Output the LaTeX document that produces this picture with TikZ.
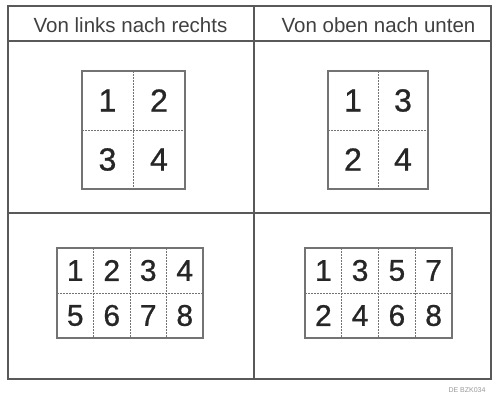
\documentclass[tikz,border=0pt]{standalone}
\usepackage{fontspec}
\setmainfont{Liberation Sans}
\newfontfamily\digitfont[FakeBold=0.8]{Liberation Sans}
\begin{document}
\begin{tikzpicture}[x=1pt,y=-1pt,
 frame/.style={draw=black!65,line width=1.6pt},
 page/.style={draw=black!55,line width=1.2pt},
 fold/.style={draw=black!55,line width=0.7pt,dash pattern=on 1.8pt off 1.2pt},
 head/.style={font=\fontsize{20.5}{24}\selectfont,text=black!75,anchor=base},
 big/.style={font=\digitfont\fontsize{32}{36}\selectfont,text=black!85},
 small/.style={font=\digitfont\fontsize{30}{34}\selectfont,text=black!85},
 tag/.style={font=\fontsize{7}{8}\selectfont,text=black!40}]
\useasboundingbox (0,0) rectangle (492,396);
% frame
\draw[frame] (8,6) rectangle (491,379);
\draw[frame] (254,6) -- (254,379);
\draw[frame] (8,41) -- (491,41);
\draw[frame] (8,213) -- (491,213);
% headers
\node[head] (h1) at (130.5,33) {Von links nach rechts};
\node[head] (h2) at (378.5,33) {Von oben nach unten};
% top left page
\draw[fold] (133,71) -- (133,189);
\draw[fold] (82,130) -- (185,130);
\draw[page] (82,71) rectangle (185,189);
\node[big] (a1) at (107.5,100.5) {1};
\node[big] (a2) at (159,100.5) {2};
\node[big] (a3) at (107.5,159.5) {3};
\node[big] (a4) at (159,159.5) {4};
% top right page
\draw[fold] (378,71) -- (378,189);
\draw[fold] (328,130) -- (428,130);
\draw[page] (328,71) rectangle (428,189);
\node[big] (b1) at (353,100.5) {1};
\node[big] (b3) at (403,100.5) {3};
\node[big] (b2) at (353,159.5) {2};
\node[big] (b4) at (403,159.5) {4};
% bottom left page
\foreach \x in {93.5,130,166.5} \draw[fold] (\x,248) -- (\x,338);
\draw[fold] (57,293) -- (203,293);
\draw[page] (57,248) rectangle (203,338);
\foreach \n/\x/\y in {1/75.25/270.5,2/111.75/270.5,3/148.25/270.5,4/184.75/270.5,
                      5/75.25/315.5,6/111.75/315.5,7/148.25/315.5,8/184.75/315.5}
  \node[small] (c\n) at (\x,\y) {\n};
% bottom right page
\foreach \x in {341.75,378.5,415.25} \draw[fold] (\x,248) -- (\x,338);
\draw[fold] (305,293) -- (452,293);
\draw[page] (305,248) rectangle (452,338);
\foreach \n/\x/\y in {1/323.4/270.5,3/360.1/270.5,5/396.9/270.5,7/433.6/270.5,
                      2/323.4/315.5,4/360.1/315.5,6/396.9/315.5,8/433.6/315.5}
  \node[small] (d\n) at (\x,\y) {\n};
% tag
\node[tag] (tg) at (467,390) {DE BZK034};
\end{tikzpicture}
\end{document}
